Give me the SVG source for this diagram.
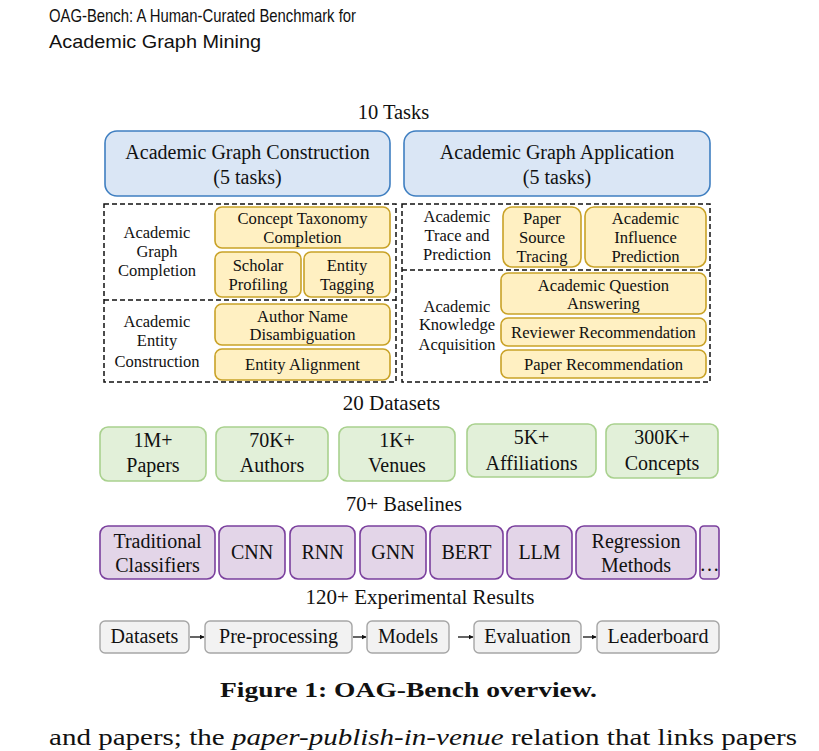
<svg xmlns="http://www.w3.org/2000/svg" width="819" height="751" viewBox="0 0 819 751">
<defs>
<style>
.t{font-family:"Liberation Serif","Times New Roman",serif;fill:#111;text-anchor:middle}
.s15{font-size:16.5px}.s16{font-size:16.6px}.s18{font-size:20.5px}.s19{font-size:20px}.s21{font-size:21px}
.blue{fill:#dae6f5;stroke:#3f7fc1;stroke-width:1.6}
.yel{fill:#fff0c2;stroke:#c9a227;stroke-width:1.6}
.grn{fill:#e2f0d9;stroke:#a9d18e;stroke-width:1.6}
.pur{fill:#e3d5e8;stroke:#7a3f9d;stroke-width:1.6}
.gry{fill:#f2f2f2;stroke:#a6a6a6;stroke-width:1.4}
.dash{fill:none;stroke:#111;stroke-width:1.5;stroke-dasharray:5 3}
.arr{stroke:#111;stroke-width:1.3;fill:none;marker-end:url(#ah)}
.hd{font-family:"Liberation Sans",Arial,sans-serif;font-size:18.5px;fill:#111}
</style>
<marker id="ah" viewBox="0 0 10 10" refX="9" refY="5" markerWidth="5" markerHeight="5" orient="auto" markerUnits="userSpaceOnUse">
<path d="M0,0 L10,5 L0,10 z" fill="#111"/>
</marker>
</defs>
<rect width="819" height="751" fill="#fff"/>

<g id="header">
<text class="hd" x="49" y="22" textLength="307" lengthAdjust="spacingAndGlyphs">OAG-Bench: A Human-Curated Benchmark for</text>
<text class="hd" x="49" y="48" textLength="212" lengthAdjust="spacingAndGlyphs">Academic Graph Mining</text>
</g>

<text class="t s18" x="393.5" y="119">10 Tasks</text>

<g id="construction">
<rect class="blue" x="105" y="131" width="285" height="65" rx="12"/>
<text class="t s19" x="247.5" y="159">Academic Graph Construction</text>
<text class="t s19" x="247.5" y="184">(5 tasks)</text>
</g>
<g id="application">
<rect class="blue" x="404" y="131" width="306" height="65" rx="12"/>
<text class="t s19" x="557" y="159">Academic Graph Application</text>
<text class="t s19" x="557" y="184">(5 tasks)</text>
</g>

<g id="dashed-groups">
<rect class="dash" x="104" y="204" width="292" height="178"/>
<line class="dash" x1="104" y1="300" x2="396" y2="300"/>
<rect class="dash" x="402" y="204" width="308" height="178"/>
<line class="dash" x1="402" y1="270" x2="710" y2="270"/>
</g>

<g id="graph-completion">
<text class="t s15" x="157" y="238">Academic</text>
<text class="t s15" x="157" y="257">Graph</text>
<text class="t s15" x="157" y="276">Completion</text>
</g>
<g id="entity-construction">
<text class="t s15" x="157" y="327">Academic</text>
<text class="t s15" x="157" y="346">Entity</text>
<text class="t s15" x="157" y="367">Construction</text>
</g>
<g id="trace-prediction">
<text class="t s15" x="457" y="222">Academic</text>
<text class="t s15" x="457" y="241">Trace and</text>
<text class="t s15" x="457" y="260">Prediction</text>
</g>
<g id="knowledge-acquisition">
<text class="t s15" x="457" y="312">Academic</text>
<text class="t s15" x="457" y="330">Knowledge</text>
<text class="t s15" x="457" y="350">Acquisition</text>
</g>

<g id="concept-taxonomy">
<rect class="yel" x="215" y="207" width="175" height="41" rx="7"/>
<text class="t s16" x="302.5" y="224">Concept Taxonomy</text>
<text class="t s16" x="302.5" y="243">Completion</text>
</g>
<g id="scholar-profiling">
<rect class="yel" x="215" y="252" width="86" height="45" rx="7"/>
<text class="t s16" x="258" y="271">Scholar</text>
<text class="t s16" x="258" y="290">Profiling</text>
</g>
<g id="entity-tagging">
<rect class="yel" x="304" y="252" width="86" height="45" rx="7"/>
<text class="t s16" x="347" y="271">Entity</text>
<text class="t s16" x="347" y="290">Tagging</text>
</g>
<g id="author-name">
<rect class="yel" x="215" y="304" width="175" height="41" rx="7"/>
<text class="t s16" x="302.5" y="322">Author Name</text>
<text class="t s16" x="302.5" y="340">Disambiguation</text>
</g>
<g id="entity-alignment">
<rect class="yel" x="215" y="349" width="175" height="31" rx="7"/>
<text class="t s16" x="302.5" y="370">Entity Alignment</text>
</g>

<g id="paper-source">
<rect class="yel" x="503" y="207" width="78" height="60" rx="9"/>
<text class="t s16" x="542" y="224">Paper</text>
<text class="t s16" x="542" y="243">Source</text>
<text class="t s16" x="542" y="262">Tracing</text>
</g>
<g id="influence">
<rect class="yel" x="585" y="207" width="121" height="60" rx="9"/>
<text class="t s16" x="645.5" y="224">Academic</text>
<text class="t s16" x="645.5" y="243">Influence</text>
<text class="t s16" x="645.5" y="262">Prediction</text>
</g>
<g id="question-answering">
<rect class="yel" x="501" y="273" width="205" height="41" rx="7"/>
<text class="t s16" x="603.5" y="291">Academic Question</text>
<text class="t s16" x="603.5" y="309">Answering</text>
</g>
<g id="reviewer-rec">
<rect class="yel" x="501" y="318" width="205" height="28" rx="7"/>
<text class="t s16" x="603.5" y="338">Reviewer Recommendation</text>
</g>
<g id="paper-rec">
<rect class="yel" x="501" y="350" width="205" height="28" rx="7"/>
<text class="t s16" x="603.5" y="370">Paper Recommendation</text>
</g>

<text class="t s21" x="391.5" y="410">20 Datasets</text>

<g id="ds-papers">
<rect class="grn" x="100" y="427" width="106" height="54" rx="8"/>
<text class="t s19" x="153" y="447">1M+</text>
<text class="t s19" x="153" y="472">Papers</text>
</g>
<g id="ds-authors">
<rect class="grn" x="216" y="427" width="112" height="54" rx="8"/>
<text class="t s19" x="272" y="447">70K+</text>
<text class="t s19" x="272" y="472">Authors</text>
</g>
<g id="ds-venues">
<rect class="grn" x="339" y="427" width="116" height="54" rx="8"/>
<text class="t s19" x="397" y="447">1K+</text>
<text class="t s19" x="397" y="472">Venues</text>
</g>
<g id="ds-affiliations">
<rect class="grn" x="467" y="424" width="129" height="53" rx="8"/>
<text class="t s19" x="531.5" y="444">5K+</text>
<text class="t s19" x="531.5" y="470">Affiliations</text>
</g>
<g id="ds-concepts">
<rect class="grn" x="606" y="424" width="112" height="54" rx="8"/>
<text class="t s19" x="662" y="444">300K+</text>
<text class="t s19" x="662" y="470">Concepts</text>
</g>

<text class="t s18" x="404" y="511">70+ Baselines</text>

<g id="bl-traditional">
<rect class="pur" x="100" y="526" width="115" height="53" rx="8"/>
<text class="t s19" x="157.5" y="548">Traditional</text>
<text class="t s19" x="157.5" y="572">Classifiers</text>
</g>
<g id="bl-cnn">
<rect class="pur" x="219" y="526" width="66" height="53" rx="8"/>
<text class="t s19" x="252" y="559">CNN</text>
</g>
<g id="bl-rnn">
<rect class="pur" x="290" y="526" width="65" height="53" rx="8"/>
<text class="t s19" x="322.5" y="559">RNN</text>
</g>
<g id="bl-gnn">
<rect class="pur" x="360" y="526" width="66" height="53" rx="8"/>
<text class="t s19" x="393" y="559">GNN</text>
</g>
<g id="bl-bert">
<rect class="pur" x="430" y="526" width="73" height="53" rx="8"/>
<text class="t s19" x="466.5" y="559">BERT</text>
</g>
<g id="bl-llm">
<rect class="pur" x="507" y="526" width="65" height="53" rx="8"/>
<text class="t s19" x="539.5" y="559">LLM</text>
</g>
<g id="bl-regression">
<rect class="pur" x="576" y="526" width="120" height="53" rx="8"/>
<text class="t s19" x="636" y="548">Regression</text>
<text class="t s19" x="636" y="572">Methods</text>
</g>
<g id="bl-more">
<rect class="pur" x="700" y="526" width="19" height="53" rx="4"/>
<text class="t s19" x="709.5" y="571">…</text>
</g>

<text class="t s21" x="420" y="604">120+ Experimental Results</text>

<g id="p-datasets">
<rect class="gry" x="100" y="621" width="89" height="32" rx="5"/>
<text class="t s19" x="144.5" y="643">Datasets</text>
</g>
<g id="p-preprocessing">
<rect class="gry" x="205" y="621" width="147" height="32" rx="5"/>
<text class="t s19" x="278.5" y="643">Pre-processing</text>
</g>
<g id="p-models">
<rect class="gry" x="367" y="621" width="82" height="32" rx="5"/>
<text class="t s19" x="408" y="643">Models</text>
</g>
<g id="p-evaluation">
<rect class="gry" x="474" y="621" width="107" height="32" rx="5"/>
<text class="t s19" x="527.5" y="643">Evaluation</text>
</g>
<g id="p-leaderboard">
<rect class="gry" x="597" y="621" width="122" height="32" rx="5"/>
<text class="t s19" x="658" y="643">Leaderboard</text>
</g>

<g id="connectors">
<line class="arr" x1="190" y1="637" x2="204" y2="637"/>
<line class="arr" x1="353" y1="637" x2="366" y2="637"/>
<line class="arr" x1="458" y1="637" x2="473" y2="637"/>
<line class="arr" x1="583" y1="637" x2="596" y2="637"/>
</g>

<text x="408.5" y="697" font-family="'Liberation Serif',serif" font-weight="bold" font-size="22" fill="#111" text-anchor="middle" textLength="377" lengthAdjust="spacingAndGlyphs">Figure 1: OAG-Bench overview.</text>

<text x="49" y="745" font-family="'Liberation Serif',serif" font-size="23" fill="#111" textLength="748" lengthAdjust="spacingAndGlyphs">and papers; the <tspan font-style="italic">paper-publish-in-venue</tspan> relation that links papers</text>
</svg>
